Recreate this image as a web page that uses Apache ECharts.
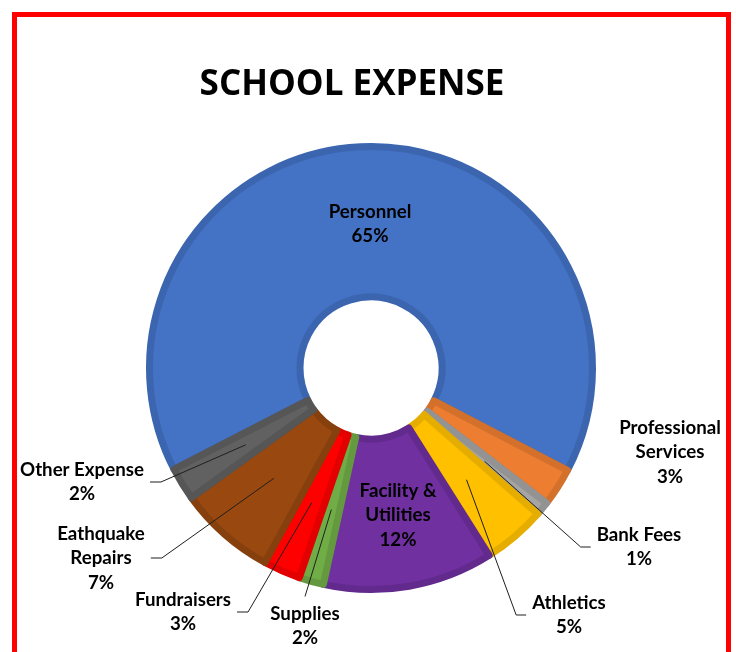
<!DOCTYPE html>
<html>
<head>
<meta charset="utf-8">
<script src="https://cdn.jsdelivr.net/npm/echarts@6/dist/echarts.min.js"></script>
<style>
html, body { margin: 0; padding: 0; background: #ffffff; }
#chart { width: 736px; height: 652px; }
</style>
</head>
<body>
<div id="chart"></div>
<script>
// ---- data ----
const categories = ['Personnel', 'Professional Services', 'Bank Fees', 'Athletics',
  'Facility & Utilities', 'Supplies', 'Fundraisers', 'Eathquake Repairs', 'Other Expense'];
const labelText = ['Personnel', 'Professional\nServices', 'Bank Fees', 'Athletics',
  'Facility &\nUtilities', 'Supplies', 'Fundraisers', 'Eathquake\nRepairs', 'Other Expense'];
const values = [65.2, 2.8, 1.0, 4.6, 12.4, 1.8, 2.7, 7.1, 2.4];

// ---- style ----
const colors = ['#4472C4', '#ED7D31', '#A5A5A5', '#FFC000', '#7030A0', '#70AD47', '#FF0000', '#99480F', '#616161'];
const borderColors = ['#3C65AF', '#D3702C', '#939393', '#E5AD00', '#632A8E', '#64993F', '#E20000', '#86400D', '#565656'];
const insideLabelPos = {
  'Personnel': { x: 370, y: 224 },
  'Facility & Utilities': { x: 398, y: 515 }
};
const outsideLabelPos = {
  'Professional Services': { x: 670, y: 452, side: 'none' },
  'Bank Fees': { x: 639, y: 547, side: 'left' },
  'Athletics': { x: 569, y: 615, side: 'left' },
  'Supplies': { x: 305, y: 626, side: 'top' },
  'Fundraisers': { x: 183, y: 612, side: 'right' },
  'Eathquake Repairs': { x: 101, y: 558, side: 'right' },
  'Other Expense': { x: 82, y: 482, side: 'right' }
};
const FONT = 'Lato';
const CENTER = [371, 368];
const START = 207.2;

const total = values.reduce((a, b) => a + b, 0);
function fmt(i) {
  return labelText[i] + '\n' + Math.round(values[i] / total * 100) + '%';
}
const labelStyle = {
  formatter: p => fmt(p.dataIndex),
  fontFamily: FONT, fontWeight: 'bold', fontSize: 18.7, lineHeight: 24.5,
  color: '#000000', align: 'center'
};

const chart = echarts.init(document.getElementById('chart'), null, { renderer: 'canvas' });
chart.setOption({
  animation: false,
  backgroundColor: '#ffffff',
  title: {
    text: 'SCHOOL EXPENSE',
    left: 352, top: 68, textAlign: 'center', padding: 0,
    textStyle: { fontFamily: 'Open Sans', fontWeight: 'bold', fontSize: 35, color: '#000000' }
  },
  graphic: [{
    type: 'rect', silent: true, z: 100,
    shape: { x: 14.5, y: 14.5, width: 714, height: 700 },
    style: { fill: null, stroke: '#FF0000', lineWidth: 5 }
  }],
  series: [
    {
      type: 'pie', silent: true, z: 2,
      center: CENTER, radius: [71, 221.5], startAngle: START, clockwise: true,
      avoidLabelOverlap: false,
      itemStyle: { borderWidth: 7 },
      label: Object.assign({ position: 'inside' }, labelStyle),
      labelLine: { show: false },
      emphasis: { disabled: true },
      labelLayout: function (p) {
        const L = insideLabelPos[categories[p.dataIndex]];
        if (!L) return {};
        return { x: L.x, y: L.y, align: 'center', verticalAlign: 'middle' };
      },
      data: categories.map((n, i) => ({
        name: n, value: values[i],
        itemStyle: { color: colors[i], borderColor: borderColors[i] },
        label: { show: !!insideLabelPos[n] }
      }))
    },
    {
      type: 'pie', silent: true, z: 5,
      center: CENTER, radius: [0, 147], startAngle: START, clockwise: true,
      avoidLabelOverlap: false,
      itemStyle: { color: 'rgba(0,0,0,0)', borderWidth: 0 },
      label: Object.assign({ position: 'outside' }, labelStyle),
      labelLine: { show: true, length: 10, length2: 10, lineStyle: { color: '#1f1f1f', width: 1 } },
      emphasis: { disabled: true },
      labelLayout: function (p) {
        const L = outsideLabelPos[categories[p.dataIndex]];
        if (!L) return {};
        const w = p.labelRect.width, h = p.labelRect.height;
        const res = { x: L.x, y: L.y, align: 'center', verticalAlign: 'middle' };
        const pts = p.labelLinePoints;
        if (pts && L.side !== 'none') {
          const s = pts[0];
          let knee, end;
          if (L.side === 'right') {
            end = [L.x + w / 2 + 6, L.y];
            knee = [end[0] + 11, L.y];
          } else if (L.side === 'left') {
            end = [L.x - w / 2 - 6, L.y];
            knee = [end[0] - 10, L.y];
          } else {
            end = [L.x, L.y - h / 2 - 5];
            knee = end.slice();
          }
          res.labelLinePoints = [s, knee, end];
        }
        return res;
      },
      data: categories.map((n, i) => ({
        name: n, value: values[i],
        label: { show: !!outsideLabelPos[n] },
        labelLine: { show: !!outsideLabelPos[n] && outsideLabelPos[n].side !== 'none' }
      }))
    }
  ]
});
</script>
</body>
</html>
